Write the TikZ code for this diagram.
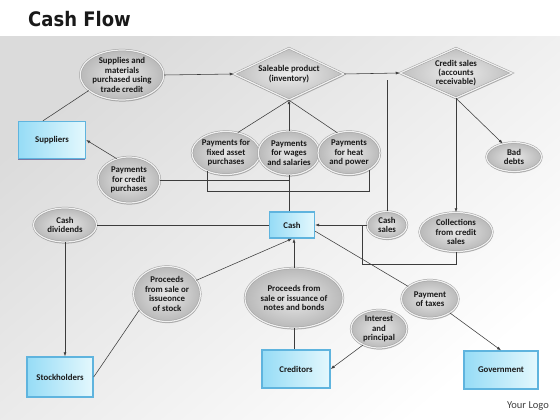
\documentclass[tikz,border=0pt]{standalone}
\usepackage{fontspec}
\setmainfont{Carlito}
\newfontfamily\titlefont{DejaVu Sans}
\usetikzlibrary{shapes.geometric,arrows.meta,shadows}
\definecolor{boxL}{RGB}{150,220,246}
\definecolor{boxR}{RGB}{228,248,253}
\definecolor{boxB}{RGB}{95,180,222}
\definecolor{txt}{RGB}{25,25,25}
\definecolor{ln}{RGB}{60,60,60}
\tikzset{
  lbl/.style={font=\fontsize{8.8}{9.4}\selectfont\bfseries, text=txt, align=center},
  oval/.style={lbl, ellipse, inner sep=0pt, minimum width=#1,
    inner color=gray!18, outer color=gray!55,
    draw=gray!75, line width=0.5pt, double=gray!12, double distance=1.2pt,
    drop shadow={shadow xshift=0.4pt, shadow yshift=-1.6pt, opacity=0.35, fill=black!70}},
  dia/.style={lbl, diamond, inner sep=0pt, aspect=2.2, minimum width=#1,
    inner color=gray!15, outer color=gray!50,
    draw=gray!75, line width=0.5pt, double=gray!12, double distance=1.2pt,
    drop shadow={shadow xshift=0.4pt, shadow yshift=-1.6pt, opacity=0.35, fill=black!70}},
  rbox/.style={lbl, rectangle, inner sep=0pt, minimum width=#1,
    left color=boxL, right color=boxR, draw=boxB, line width=1.4pt,
    drop shadow={shadow xshift=-0.6pt, shadow yshift=-1.2pt, opacity=0.45, fill=blue!40!black}},
  cn/.style={draw=ln, line width=0.55pt},
  arr/.style={cn, -{Latex[length=4pt,width=3pt]}},
}
\begin{document}
\begin{tikzpicture}[x=1pt,y=-1pt]
\useasboundingbox (0,0) rectangle (560,420);
\fill[white] (0,0) rectangle (560,420);
\shade[top color=black!14, bottom color=white, shading angle=40] (0,37) rectangle (560,420);
\node[anchor=base west, font=\titlefont\bfseries\fontsize{20}{22}\selectfont, text=black!90, xscale=0.9] (title) at (25,27) {Cash Flow};
\node[font=\fontsize{10.5}{12}\selectfont, text=black!75] (logo) at (528,406) {Your Logo};

% nodes
\node[oval=83pt, minimum height=50pt] (sup) at (122,75) {Supplies and\\materials\\purchased using\\trade credit};
\node[dia=110pt, minimum height=52pt] (sal) at (289,74) {Saleable product\\(inventory)};
\node[dia=112pt, minimum height=50pt] (cre) at (456,73) {Credit sales\\(accounts\\receivable)};
\node[rbox=67pt, minimum height=37pt] (supl) at (52,140) {Suppliers};
\node[oval=62pt, minimum height=46pt] (pcp) at (129,180) {Payments\\for credit\\purchases};
\node[oval=66pt, minimum height=43pt] (pfa) at (226,153) {Payments for\\fixed asset\\purchases};
\node[oval=60pt, minimum height=44pt] (pws) at (289,153) {Payments\\for wages\\and salaries};
\node[oval=62pt, minimum height=43pt] (php) at (349,153) {Payments\\for heat\\and power};
\node[oval=55pt, minimum height=29pt] (bad) at (514,157) {Bad\\debts};
\node[rbox=45pt, minimum height=26pt] (cash) at (292,225) {Cash};
\node[oval=40pt, minimum height=27pt] (csales) at (387,225) {Cash\\sales};
\node[oval=73pt, minimum height=39pt] (coll) at (456,232) {Collections\\from credit\\sales};
\node[oval=63pt, minimum height=34pt] (div) at (65,225) {Cash\\dividends};
\node[oval=67pt, minimum height=55pt] (pstock) at (167,294) {Proceeds\\from sale or\\issueonce\\of stock};
\node[oval=98pt, minimum height=60pt] (pnotes) at (294,298) {Proceeds from\\sale or issuance of\\notes and bonds};
\node[rbox=66pt, minimum height=40pt] (stock) at (60,377) {Stockholders};
\node[rbox=68pt, minimum height=38pt] (cred) at (296,369) {Creditors};
\node[oval=56pt, minimum height=38pt] (int) at (379,329) {Interest\\and\\principal};
\node[oval=57pt, minimum height=38pt] (tax) at (430,299) {Payment\\of taxes};
\node[rbox=74pt, minimum height=38pt] (gov) at (501,370) {Government};

\coordinate (cst) at (387,80);
\coordinate (cj) at (362,225);

% connectors
\draw[cn] ([xshift=-9pt]supl.north) -- (sup.205);
\draw[arr] (sup.east) -- (sal.west);
\draw[arr] (sal.east) -- (cre.west);
\draw[arr] (pcp.120) -- (supl.east);
\draw[cn] (pfa.60) -- (sal.south);
\draw[cn] (php.120) -- (sal.south);
\draw[arr] (pws.north) -- (sal.south);
\draw[cn] (pcp.east) -- (pcp.east -| pws.south);
\draw[cn] ([xshift=-19pt,yshift=4pt]pfa.south) -- ++(0,21) -| ([xshift=20pt,yshift=5pt]php.south);
\draw[cn] (pws.south) -- (pws.south |- cash.north);
\draw[cn] (csales.north) -- (cst);
\draw[arr] (cre.south) -- (coll.north);
\draw[arr] (cre.south) -- (bad.130);
\draw[arr] (csales.west) -- (cash.east);
\draw[cn] (coll.south) -- ++(0,13) -| (cj);
\draw[cn] (cash.west) -- (div.east);
\draw[arr] (div.south) -- (div.south |- stock.north);
\draw[cn] (stock.east) -- (pstock.210);
\draw[arr] (pstock.25) -- (cash.south);
\draw[arr] (pnotes.north) -- (pnotes.north |- cash.south);
\draw[cn] (pnotes.south) -- (pnotes.south |- cred.north);
\draw[arr] (int.225) -- (cred.east);
\draw[cn] (cash.-15) -- (tax.150);
\draw[arr] (tax.-35) -- (gov.north);
\end{tikzpicture}
\end{document}
